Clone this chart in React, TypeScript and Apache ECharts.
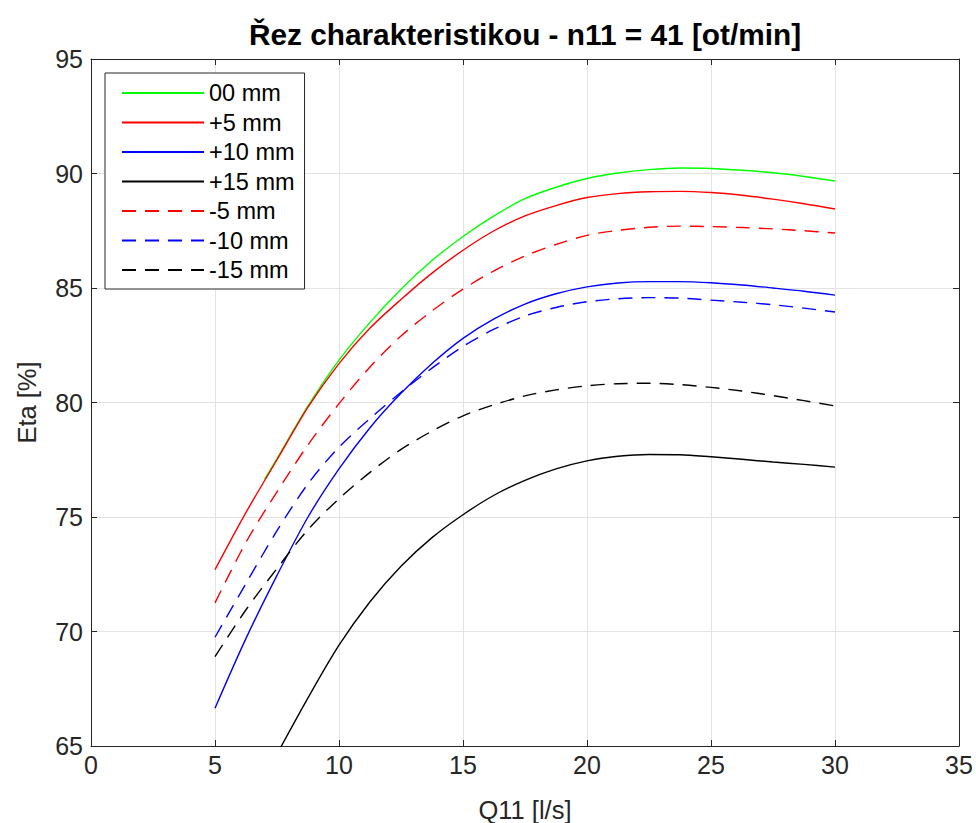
import React, { useEffect, useRef } from "react";
import * as echarts from "echarts";

const titleText = "Řez charakteristikou - n11 = 41 [ot/min]";
const xName = "Q11 [l/s]";
const yName = "Eta [%]";

const xTicks = { min: 0, max: 35, interval: 5 };
const yTicks = { min: 65, max: 95, interval: 5 };

// shared Q11 sample points
const q11 = [5, 6.25, 7.5, 8.75, 10, 11.25, 12.5, 13.75, 15, 16.25, 17.5, 18.75, 20, 21.25, 22.5, 23.75, 25, 26.25, 27.5, 28.75, 30];
// green curve becomes visible later
const q11Green = [7, 7.5, 8.75, 10, 11.25, 12.5, 13.75, 15, 16.25, 17.5, 18.75, 20, 21.25, 22.5, 23.75, 25, 26.25, 27.5, 28.75, 30];

const eta00 = [76.65, 77.55, 79.85, 81.85, 83.5, 84.95, 86.2, 87.25, 88.15, 88.9, 89.4, 89.78, 90.02, 90.17, 90.24, 90.22, 90.14, 90.03, 89.87, 89.67];
const etaP5 = [72.7, 75.2, 77.5, 79.8, 81.7, 83.25, 84.5, 85.65, 86.65, 87.5, 88.15, 88.6, 88.95, 89.12, 89.2, 89.22, 89.17, 89.05, 88.88, 88.68, 88.45];
const etaP10 = [66.65, 69.7, 72.45, 75.0, 77.1, 78.9, 80.4, 81.7, 82.8, 83.65, 84.3, 84.75, 85.05, 85.22, 85.28, 85.28, 85.23, 85.13, 85.0, 84.86, 84.69];
const etaP15 = [59.4, 62.2, 64.65, 67.1, 69.4, 71.3, 72.85, 74.1, 75.1, 75.95, 76.6, 77.1, 77.45, 77.65, 77.73, 77.72, 77.63, 77.52, 77.4, 77.3, 77.18];
const etaM5 = [71.25, 73.9, 76.1, 78.15, 79.95, 81.55, 82.9, 84.0, 84.95, 85.75, 86.4, 86.9, 87.3, 87.52, 87.65, 87.7, 87.68, 87.64, 87.58, 87.5, 87.4];
const etaM10 = [69.75, 72.1, 74.4, 76.45, 78.05, 79.3, 80.45, 81.5, 82.45, 83.2, 83.78, 84.15, 84.4, 84.53, 84.58, 84.56, 84.47, 84.38, 84.27, 84.12, 83.95];
const etaM15 = [68.9, 70.95, 72.75, 74.45, 75.8, 76.95, 77.95, 78.75, 79.42, 79.9, 80.29, 80.55, 80.73, 80.82, 80.84, 80.78, 80.66, 80.5, 80.3, 80.08, 79.85];

const seriesNames = ["00 mm", "+5 mm", "+10 mm", "+15 mm", "-5 mm", "-10 mm", "-15 mm"];
const seriesColors = ["#00ff00", "#ff0000", "#0000ff", "#000000", "#ff0000", "#0000ff", "#000000"];
const seriesDashed = [false, false, false, false, true, true, true];

const FONT = "'Liberation Sans', Arial, Helvetica, sans-serif";
const AXIS_COLOR = "#262626";

function pairs(xs: number[], ys: number[]) {
  return xs.map((x, i) => [x, ys[i]]);
}

export default function App() {
  const ref = useRef<HTMLDivElement>(null);

  useEffect(() => {
    if (!ref.current) return;
    const chart = echarts.init(ref.current, undefined, { renderer: "svg" });

    const datasets = [
      pairs(q11Green, eta00),
      pairs(q11, etaP5),
      pairs(q11, etaP10),
      pairs(q11, etaP15),
      pairs(q11, etaM5),
      pairs(q11, etaM10),
      pairs(q11, etaM15),
    ];

    const axisCommon = {
      axisLine: { show: true, onZero: false, lineStyle: { color: AXIS_COLOR, width: 1 } },
      axisTick: { show: true, inside: true, length: 6, lineStyle: { color: AXIS_COLOR, width: 1 } },
    };

    const option: any = {
      animation: false,
      backgroundColor: "#ffffff",
      title: {
        text: titleText,
        left: 525,
        textAlign: "center",
        top: 19,
        padding: 0,
        textStyle: { fontFamily: FONT, fontSize: 29.8, fontWeight: "bold", color: "#000000" },
      },
      grid: { left: 91, right: 17, top: 59, bottom: 77, containLabel: false, outerBoundsMode: "none" },
      legend: {
        orient: "vertical",
        left: 105,
        top: 73,
        padding: [8, 10, 7, 16],
        itemWidth: 82,
        itemHeight: 14,
        itemGap: 5.5,
        backgroundColor: "#ffffff",
        borderColor: AXIS_COLOR,
        borderWidth: 1,
        itemStyle: { opacity: 0 },
        textStyle: { fontFamily: FONT, fontSize: 23.5, color: "#000000" },
        data: seriesNames,
      },
      xAxis: [
        {
          type: "value",
          ...xTicks,
          position: "bottom",
          name: xName,
          nameLocation: "middle",
          nameGap: 51,
          nameTextStyle: { fontFamily: FONT, fontSize: 25.5, color: AXIS_COLOR },
          ...axisCommon,
          axisLabel: { fontFamily: FONT, fontSize: 25, color: AXIS_COLOR, margin: 6 },
          splitLine: { show: true, lineStyle: { color: "#e3e3e3", width: 1 } },
        },
        {
          type: "value",
          ...xTicks,
          position: "top",
          ...axisCommon,
          axisLabel: { show: false },
          splitLine: { show: false },
        },
      ],
      yAxis: [
        {
          type: "value",
          ...yTicks,
          position: "left",
          name: yName,
          nameLocation: "middle",
          nameGap: 51,
          nameTextStyle: { fontFamily: FONT, fontSize: 25.5, color: AXIS_COLOR },
          ...axisCommon,
          axisLabel: { fontFamily: FONT, fontSize: 25, color: AXIS_COLOR, margin: 8 },
          splitLine: { show: true, lineStyle: { color: "#e3e3e3", width: 1 } },
        },
        {
          type: "value",
          ...yTicks,
          position: "right",
          ...axisCommon,
          axisLabel: { show: false },
          splitLine: { show: false },
        },
      ],
      series: seriesNames.map((name, i) => ({
        name,
        type: "line",
        data: datasets[i],
        xAxisIndex: 0,
        yAxisIndex: 0,
        smooth: 0.3,
        symbol: "none",
        showSymbol: false,
        clip: true,
        color: seriesColors[i],
        lineStyle: {
          color: seriesColors[i],
          width: 1.4,
          type: seriesDashed[i] ? [14, 9] : "solid",
        },
        z: 2 + i,
      })),
    };

    chart.setOption(option);
    return () => chart.dispose();
  }, []);

  return (
    <div
      ref={ref}
      style={{ position: "absolute", left: 0, top: 0, width: 976, height: 823 }}
    />
  );
}
